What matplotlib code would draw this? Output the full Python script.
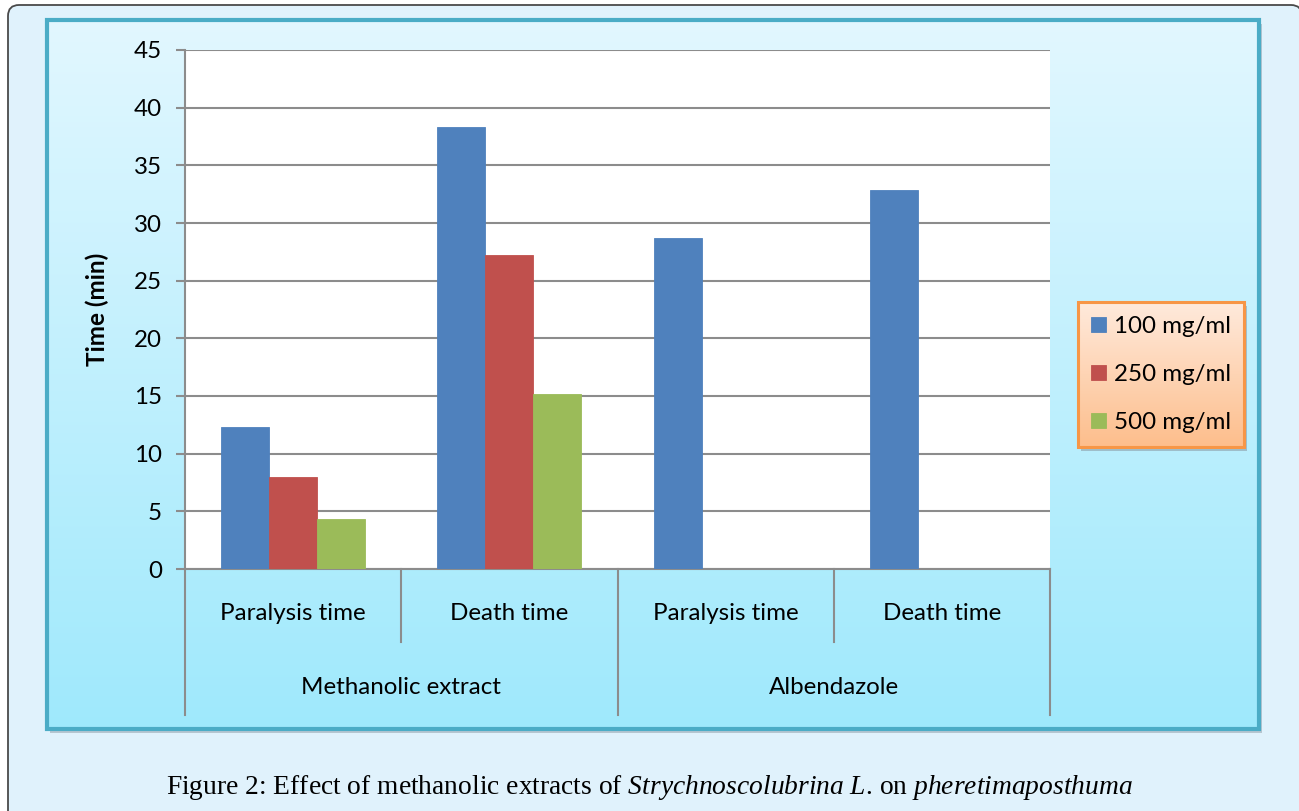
import numpy as np
import matplotlib
matplotlib.use("Agg")
import matplotlib.pyplot as plt
from matplotlib.patches import FancyBboxPatch, Rectangle
from matplotlib.colors import LinearSegmentedColormap
import matplotlib.transforms as mtrans

# ---------------- data ----------------
groups = ["Methanolic extract", "Albendazole"]
categories = ["Paralysis time", "Death time", "Paralysis time", "Death time"]
series_labels = ["100 mg/ml", "250 mg/ml", "500 mg/ml"]
v100 = [12.3, 38.3, 28.7, 32.9]
v250 = [8.0, 27.2, np.nan, np.nan]
v500 = [4.3, 15.2, np.nan, np.nan]
series_values = [v100, v250, v500]
series_colors = ["#4F81BD", "#C0504D", "#9BBB59"]
yticks = [0, 5, 10, 15, 20, 25, 30, 35, 40, 45]
ylabel = "Time (min)"

SANS = ["Lato", "DejaVu Sans"]
plt.rcParams["font.family"] = SANS
plt.rcParams["mathtext.fontset"] = "custom"
plt.rcParams["mathtext.rm"] = "Liberation Serif"
plt.rcParams["mathtext.it"] = "Liberation Serif:italic"

FS = 17.4
W, H = 1299, 811
fig = plt.figure(figsize=(W / 100, H / 100), dpi=100)
fig.patch.set_facecolor("white")

# ---------------- background decoration axes (pixel units) ----------------
bg = fig.add_axes([0, 0, 1, 1], zorder=0)
bg.set_axis_off()

# outer box
bg.add_patch(FancyBboxPatch((8, 5), 1294, 830, boxstyle="round,pad=0,rounding_size=11",
                            fc="#E0F2FC", ec="#4A4A4A", lw=1.3, zorder=1))

# inner chart area: shadow + gradient + border
bx0, by0, bx1, by1 = 47, 20, 1259, 729
bg.add_patch(Rectangle((bx0 + 3, by0 + 4), bx1 - bx0, by1 - by0, fc="#9AAAB4", ec="none",
                       alpha=0.6, zorder=2))
cmap_chart = LinearSegmentedColormap.from_list("chart", ["#E2F7FF", "#9FE9FC"])
grad = np.linspace(0, 1, 256).reshape(-1, 1)
bg.imshow(grad, cmap=cmap_chart, aspect="auto", origin="upper",
          extent=(bx0, bx1, by1, by0), zorder=3)
bg.add_patch(Rectangle((bx0, by0), bx1 - bx0, by1 - by0, fc="none", ec="#4BACC6", lw=3,
                       zorder=4))

# legend background: shadow + gradient + border
lx0, ly0, lx1, ly1 = 1078, 302, 1244, 447
bg.add_patch(Rectangle((lx0 + 3, ly0 + 4), lx1 - lx0, ly1 - ly0, fc="#8898A0", ec="none",
                       alpha=0.55, zorder=5))
cmap_leg = LinearSegmentedColormap.from_list("leg", ["#FFEADC", "#FDBE8C"])
bg.imshow(grad, cmap=cmap_leg, aspect="auto", origin="upper",
          extent=(lx0, lx1, ly1, ly0), zorder=6)
bg.add_patch(Rectangle((lx0, ly0), lx1 - lx0, ly1 - ly0, fc="none", ec="#F79646", lw=2.2,
                       zorder=7))

bg.set_xlim(0, W)
bg.set_ylim(H, 0)

# caption
bg.text(649, 788,
        r"Figure 2: Effect of methanolic extracts of $\mathit{Strychnoscolubrina\ L}$. on $\mathit{pheretimaposthuma}$",
        ha="center", va="center", fontsize=19.8, family="Liberation Serif", color="black",
        zorder=10)

# ---------------- main plot axes ----------------
px0, py0, px1, py1 = 185, 50, 1050, 569
ax = fig.add_axes([px0 / W, 1 - py1 / H, (px1 - px0) / W, (py1 - py0) / H], zorder=2)
ax.set_facecolor("white")

x = np.arange(len(categories))
bw = 48 / 216.25
offsets = [-bw, 0, bw]
for vals, col, lab, off in zip(series_values, series_colors, series_labels, offsets):
    ax.bar(x + off, vals, width=bw, color=col, edgecolor=col, linewidth=0.6, label=lab,
           zorder=3)

ax.set_xlim(-0.5, len(categories) - 0.5)
ax.set_ylim(0, 45)
ax.set_yticks(yticks)
ax.tick_params(axis="y", direction="out", length=6.5, width=1.5, color="#8C8C8C",
               labelsize=FS, pad=10, labelcolor="black")
ax.set_xticks([])
ax.grid(axis="y", color="#8C8C8C", lw=1.5, zorder=1)
ax.set_axisbelow(True)
for s in ["top", "right"]:
    ax.spines[s].set_visible(False)
for s in ["left", "bottom"]:
    ax.spines[s].set_color("#8C8C8C")
    ax.spines[s].set_linewidth(1.5)

ax.set_ylabel(ylabel, fontsize=17.5, fontweight="bold")
ax.yaxis.set_label_coords((109 - px0) / (px1 - px0), 0.5)

# multi-level category axis
trans = mtrans.blended_transform_factory(ax.transData, ax.transAxes)
ph = py1 - py0
y_long = (py1 - 715) / ph
y_short = (py1 - 642) / ph
y_cat = (py1 - 613) / ph
y_grp = (py1 - 687) / ph
n = len(categories)
for i in range(n + 1):
    xb = i - 0.5
    yb = y_long if i % 2 == 0 else y_short
    ax.plot([xb, xb], [0, yb], transform=trans, color="#8C8C8C", lw=1.5, clip_on=False,
            zorder=5)
for i, c in enumerate(categories):
    ax.text(i, y_cat, c, transform=trans, ha="center", va="center", fontsize=FS)
for g, name in enumerate(groups):
    ax.text(2 * g + 0.5, y_grp, name, transform=trans, ha="center", va="center",
            fontsize=FS)

# legend
leg = ax.legend(loc="center", bbox_to_anchor=((lx0 + lx1) / 2 / W, 1 - (ly0 + ly1) / 2 / H),
                bbox_transform=fig.transFigure, frameon=False, fontsize=FS,
                handlelength=0.62, handleheight=0.62, handletextpad=0.35,
                labelspacing=1.12, borderaxespad=0)

fig.savefig("out.png", dpi=100)
